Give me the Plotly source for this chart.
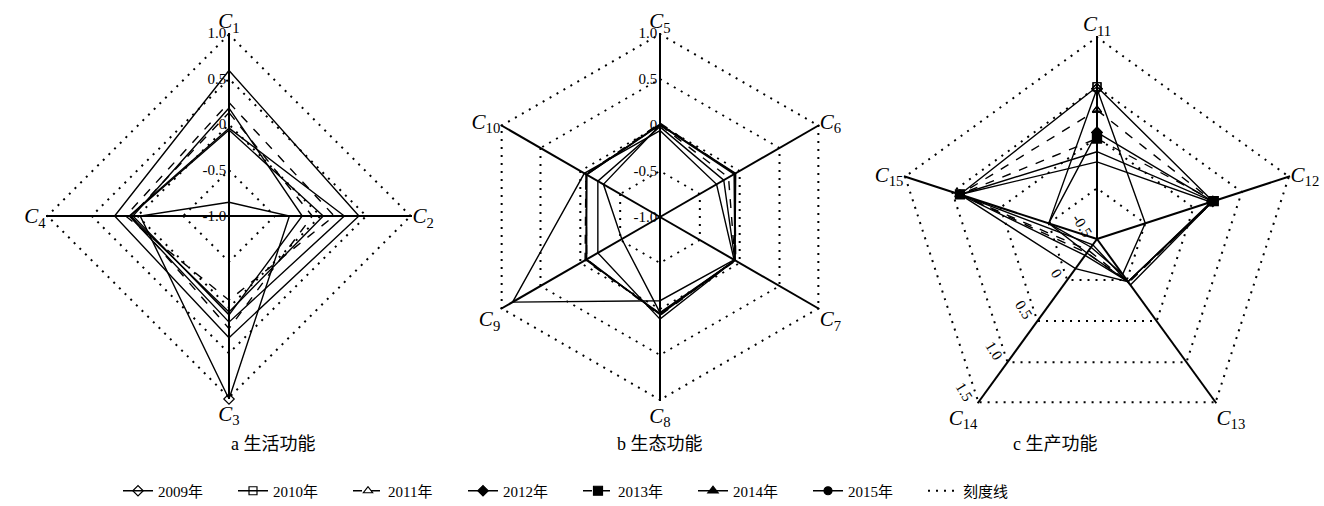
import plotly.graph_objects as go

# Years shown in the legend
years = ["2009年", "2010年", "2011年", "2012年", "2013年", "2014年", "2015年"]

# a: living function, indicators C1-C4
life_axes = ["<i>C</i><sub>1</sub>", "<i>C</i><sub>2</sub>",
             "<i>C</i><sub>3</sub>", "<i>C</i><sub>4</sub>"]
life_vals = [
    [-0.85, -0.34, 1.00, -0.03],
    [0.18, -0.20, 0.08, 0.05],
    [0.13, -0.09, 0.23, 0.07],
    [-0.06, 0.03, 0.05, 0.08],
    [0.24, 0.15, -0.08, 0.13],
    [-0.04, 0.26, 0.16, 0.09],
    [0.59, 0.42, 0.33, 0.25],
]

# b: ecological function, indicators C5-C10
eco_axes = ["<i>C</i><sub>5</sub>", "<i>C</i><sub>6</sub>", "<i>C</i><sub>7</sub>",
            "<i>C</i><sub>8</sub>", "<i>C</i><sub>9</sub>", "<i>C</i><sub>10</sub>"]
eco_vals = [
    [-0.06, -0.29, -0.07, -0.09, 0.85, -0.05],
    [-0.02, -0.20, -0.06, 0.11, -0.22, -0.22],
    [0.00, -0.14, -0.06, 0.07, -0.08, -0.07],
    [0.00, -0.07, -0.06, 0.05, -0.07, -0.08],
    [0.02, -0.06, -0.05, 0.05, -0.06, -0.07],
    [0.01, -0.06, -0.06, 0.06, -0.08, -0.08],
    [0.00, -0.05, -0.06, 0.04, -0.52, -0.29],
]

# c: production function, indicators C11-C15
prod_axes = ["<i>C</i><sub>11</sub>", "<i>C</i><sub>12</sub>", "<i>C</i><sub>13</sub>",
             "<i>C</i><sub>14</sub>", "<i>C</i><sub>15</sub>"]
prod_vals = [
    [0.98, 0.00, -0.07, -0.40, 0.00],
    [1.00, 0.70, 0.06, -0.43, 0.92],
    [0.77, 0.70, 0.03, -0.36, 0.92],
    [0.55, 0.70, 0.02, -0.33, 0.00],
    [0.49, 0.71, 0.02, -0.33, 0.92],
    [0.36, 0.70, 0.02, -0.30, 0.92],
    [0.26, 0.68, 0.02, -0.14, 0.92],
]

panel_titles = ["a 生活功能", "b 生态功能", "c 生产功能"]

ticks_ab = [-1.0, -0.5, 0.0, 0.5, 1.0]
ticktext_ab = ["-1.0", "-0.5", "0", "0.5", "1.0"]
ticks_c = [-0.5, 0.0, 0.5, 1.0, 1.5]
ticktext_c = ["-0.5", "0", "0.5", "1.0", "1.5"]

symbols = ["diamond-open", "square-open", "triangle-up-open", "diamond",
           "square", "triangle-up", "circle"]
sizes = [8, 8, 8, 8, 9, 9, 8]
dashes = ["solid", "solid", "dash", "solid", "dash", "solid", "solid"]

SERIF = "Liberation Serif, Noto Sans CJK SC"
DOTS = "2px,6px"
W, H = 1324, 506

fig = go.Figure()


def closed(seq):
    return list(seq) + [seq[0]]


panels = [("polar", life_axes, life_vals, ticks_ab),
          ("polar2", eco_axes, eco_vals, ticks_ab),
          ("polar3", prod_axes, prod_vals, ticks_c)]

for p, (sub, axes, vals, tv) in enumerate(panels):
    for i, yr in enumerate(years):
        fig.add_trace(go.Scatterpolar(
            r=closed(vals[i]), theta=closed(axes), subplot=sub,
            mode="lines+markers", name=yr, legendgroup=yr,
            showlegend=(p == 0), cliponaxis=False,
            line=dict(color="black", width=1.4, dash=dashes[i]),
            marker=dict(symbol=symbols[i], size=sizes[i], color="black",
                        line=dict(color="black", width=1.2)),
        ))

# outermost dotted scale ring of each panel (the ring at the top tick value);
# the line sits on the subplot edge, so only its inner half is visible
for p, (sub, axes, vals, tv) in enumerate(panels):
    fig.add_trace(go.Scatterpolar(
        r=[tv[-1]] * (len(axes) + 1), theta=closed(axes), subplot=sub,
        mode="lines", showlegend=False, hoverinfo="skip",
        line=dict(color="black", width=4, dash=DOTS),
    ))

# legend entry for the dotted scale rings
fig.add_trace(go.Scatterpolar(
    r=[None], theta=[life_axes[0]], subplot="polar", mode="lines",
    name="刻度线", line=dict(color="black", width=2, dash=DOTS),
))


def dom(cx, cy, R):
    return dict(x=[(cx - R) / W, (cx + R) / W],
                y=[1 - (cy + R) / H, 1 - (cy - R) / H])


def polar_layout(domain, rng, tv, tt, rangle, side, tickangle):
    return dict(
        domain=domain,
        bgcolor="white",
        gridshape="linear",
        radialaxis=dict(
            range=rng, tickvals=tv, ticktext=tt, angle=rangle, side=side,
            tickangle=tickangle,
            showline=False, showgrid=True, gridcolor="black", griddash=DOTS,
            gridwidth=2, ticks="", tickfont=dict(family=SERIF, size=15, color="black"),
        ),
        angularaxis=dict(
            rotation=90, direction="clockwise", showline=False,
            showgrid=True, gridcolor="black", gridwidth=1.5, griddash="solid",
            ticks="", tickfont=dict(family=SERIF, size=21, color="black"),
        ),
    )


fig.update_layout(
    width=W, height=H,
    margin=dict(l=0, r=0, t=0, b=0, autoexpand=False),
    paper_bgcolor="white",
    polar=polar_layout(dom(229, 216, 183), [-1, 1], ticks_ab, ticktext_ab, 90, "counterclockwise", 90),
    polar2=polar_layout(dom(660, 217, 184), [-1, 1], ticks_ab, ticktext_ab, 90, "counterclockwise", 90),
    polar3=polar_layout(dom(1097, 239, 203), [-0.5, 1.5], ticks_c, ticktext_c, 234, "clockwise", -68),
    legend=dict(orientation="h", x=118 / W, y=1 - 491 / H, yanchor="middle",
                font=dict(family=SERIF, size=15, color="black"),
                entrywidth=70, entrywidthmode="pixels", itemwidth=30,
                bgcolor="rgba(0,0,0,0)"),
    showlegend=True,
)

for cx, t in zip([229, 660, 1100], panel_titles):
    fig.add_annotation(x=cx / W, y=1 - 456 / H, xref="paper", yref="paper",
                       text=t, showarrow=False,
                       font=dict(family=SERIF, size=18, color="black"))

fig.write_html("out.html")
